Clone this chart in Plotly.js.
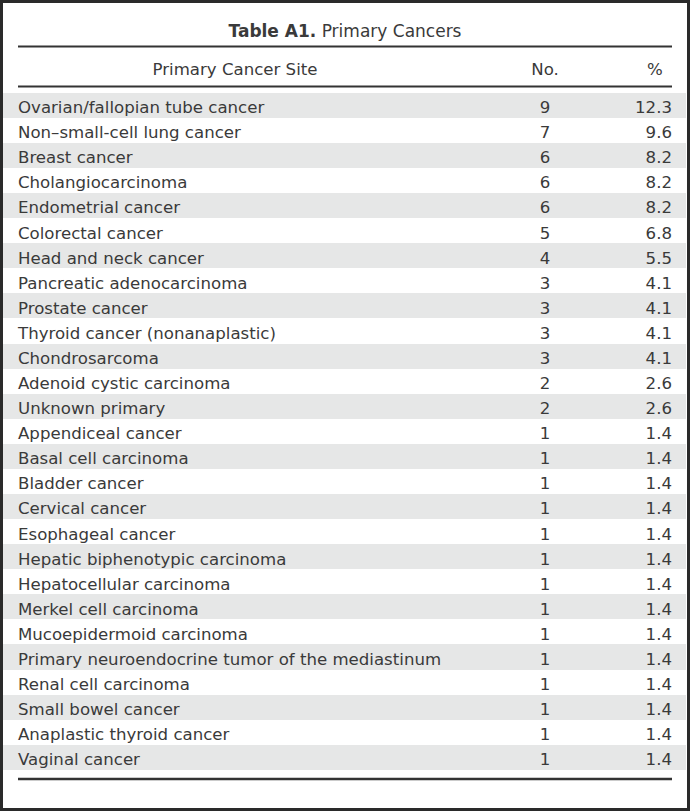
<!DOCTYPE html>
<html>
<head>
<meta charset="utf-8">
<script src="https://cdn.plot.ly/plotly-3.0.1.min.js"></script>
<style>html,body{margin:0;padding:0;background:#fff;}#chart{width:690px;height:811px;}</style>
</head>
<body>
<div id="chart"></div>
<script>
const sites = [
  "Ovarian/fallopian tube cancer",
  "Non\u2013small-cell lung cancer",
  "Breast cancer",
  "Cholangiocarcinoma",
  "Endometrial cancer",
  "Colorectal cancer",
  "Head and neck cancer",
  "Pancreatic adenocarcinoma",
  "Prostate cancer",
  "Thyroid cancer (nonanaplastic)",
  "Chondrosarcoma",
  "Adenoid cystic carcinoma",
  "Unknown primary",
  "Appendiceal cancer",
  "Basal cell carcinoma",
  "Bladder cancer",
  "Cervical cancer",
  "Esophageal cancer",
  "Hepatic biphenotypic carcinoma",
  "Hepatocellular carcinoma",
  "Merkel cell carcinoma",
  "Mucoepidermoid carcinoma",
  "Primary neuroendocrine tumor of the mediastinum",
  "Renal cell carcinoma",
  "Small bowel cancer",
  "Anaplastic thyroid cancer",
  "Vaginal cancer"
];
const counts = [9, 7, 6, 6, 6, 5, 4, 3, 3, 3, 3, 2, 2, 1, 1, 1, 1, 1, 1, 1, 1, 1, 1, 1, 1, 1, 1];
const percents = [12.3, 9.6, 8.2, 8.2, 8.2, 6.8, 5.5, 4.1, 4.1, 4.1, 4.1, 2.6, 2.6, 1.4, 1.4, 1.4, 1.4, 1.4, 1.4, 1.4, 1.4, 1.4, 1.4, 1.4, 1.4, 1.4, 1.4];
const headers = ["Primary Cancer Site", "No.", "%"];
const tableTitle = "<b>Table A1.</b> Primary Cancers";

const W = 690, H = 811;
const textColor = "#3a3a3a";
const shade = "#e6e7e7";
const rowColors = sites.map((s, i) => i % 2 === 0 ? shade : "#ffffff");
const blanks = sites.map(() => "");
const font = {family: "DejaVu Sans", size: 16.6, color: textColor};

const trace = {
  type: "table",
  domain: {x: [3 / W, 686 / W], y: [1 - 770 / H, 1 - 55 / H]},
  columnwidth: [7, 450, 170, 50, 6],
  header: {
    values: ["", headers[0], headers[1], headers[2], ""],
    align: ["left", "center", "center", "center", "left"],
    height: 37.7,
    fill: {color: "#ffffff"},
    line: {width: 0, color: "#ffffff"},
    font: font
  },
  cells: {
    values: [blanks, sites, counts, percents, blanks],
    format: ["", "", "", ".1f", ""],
    align: ["left", "left", "center", "right", "left"],
    height: 25.08,
    fill: {color: [rowColors, rowColors, rowColors, rowColors, rowColors]},
    line: {width: 0, color: [rowColors, rowColors, rowColors, rowColors, rowColors]},
    font: font
  }
};

const ruleColor = "#333333";
const layout = {
  width: W, height: H,
  margin: {l: 0, r: 0, t: 0, b: 0},
  paper_bgcolor: "#ffffff",
  title: {
    text: tableTitle,
    x: 0.5, xanchor: "center",
    y: 1 - 31 / H, yref: "container", yanchor: "middle",
    font: {family: "DejaVu Sans", size: 17, color: textColor}
  },
  shapes: [
    {type: "line", xref: "paper", yref: "paper", x0: 18 / W, x1: 672 / W, y0: 1 - 46.5 / H, y1: 1 - 46.5 / H, line: {color: ruleColor, width: 2}},
    {type: "line", xref: "paper", yref: "paper", x0: 18 / W, x1: 672 / W, y0: 1 - 86.5 / H, y1: 1 - 86.5 / H, line: {color: ruleColor, width: 2}},
    {type: "line", xref: "paper", yref: "paper", x0: 18 / W, x1: 672 / W, y0: 1 - 779 / H, y1: 1 - 779 / H, line: {color: ruleColor, width: 2.5}},
    {type: "rect", xref: "paper", yref: "paper", x0: 0, x1: 1, y0: 0, y1: 1, line: {color: "#2a2a2a", width: 6}}
  ]
};

Plotly.newPlot("chart", [trace], layout, {displayModeBar: false, staticPlot: true});
</script>
</body>
</html>
